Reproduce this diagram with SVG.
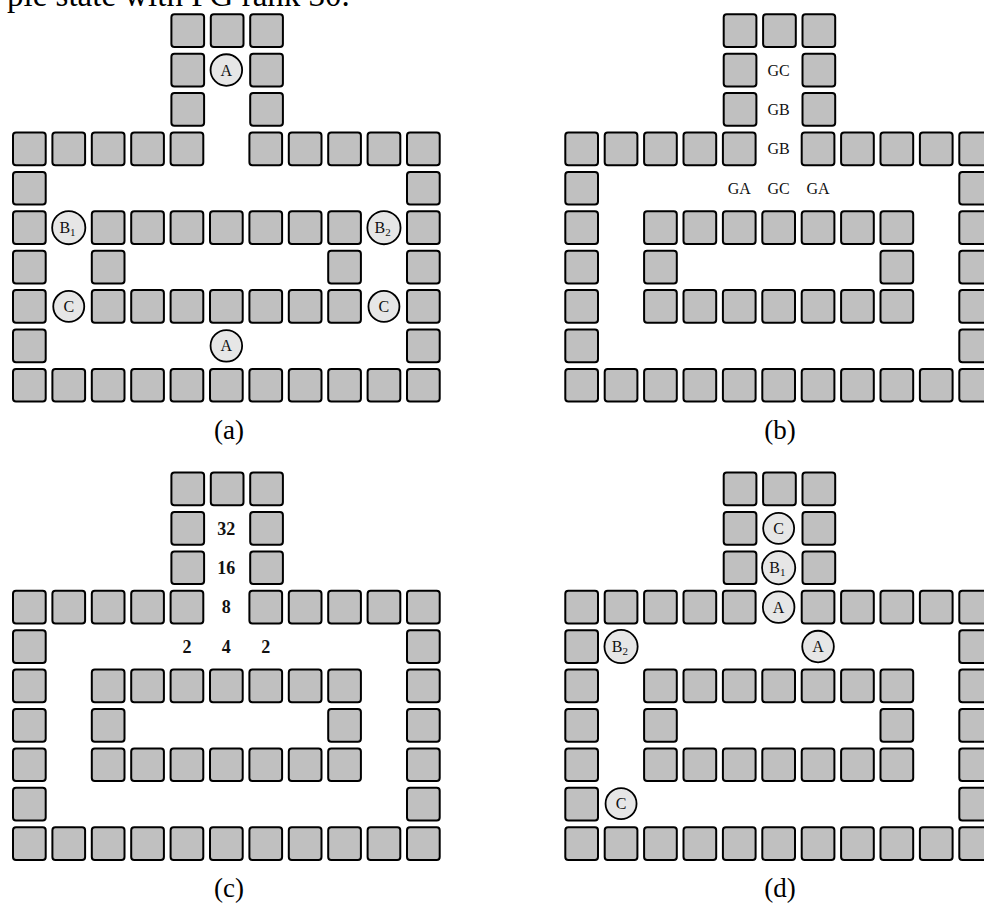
<svg xmlns="http://www.w3.org/2000/svg" xmlns:xlink="http://www.w3.org/1999/xlink" width="984" height="904" viewBox="0 0 984 904">
<style>
.sq{fill:#c0c0c0;stroke:#000;stroke-width:2}
.ag{fill:#e6e6e6;stroke:#000;stroke-width:1.8}
.al{font-family:"Liberation Serif",serif;font-size:16px;text-anchor:middle;fill:#111}
.gl{font-family:"Liberation Serif",serif;font-size:16px;text-anchor:middle;fill:#111}
.nl{font-family:"Liberation Serif",serif;font-size:18px;font-weight:bold;text-anchor:middle;fill:#111}
.cap{font-family:"Liberation Serif",serif;font-size:27px;text-anchor:middle;fill:#000}
.top{font-family:"Liberation Serif",serif;font-size:33px;fill:#000}
</style>
<defs>
<rect id="s" class="sq" x="1" y="1" width="32.7" height="32.7" rx="3"/>
<g id="maze">
<use href="#s" x="158.4" y="0"/><use href="#s" x="197.8" y="0"/><use href="#s" x="237.2" y="0"/>
<use href="#s" x="158.4" y="39.4"/><use href="#s" x="237.2" y="39.4"/>
<use href="#s" x="158.4" y="78.8"/><use href="#s" x="237.2" y="78.8"/>
<use href="#s" x="0" y="118.2"/><use href="#s" x="39.4" y="118.2"/><use href="#s" x="78.8" y="118.2"/><use href="#s" x="118.2" y="118.2"/><use href="#s" x="157.6" y="118.2"/>
<use href="#s" x="236.4" y="118.2"/><use href="#s" x="275.8" y="118.2"/><use href="#s" x="315.2" y="118.2"/><use href="#s" x="354.6" y="118.2"/><use href="#s" x="394" y="118.2"/>
<use href="#s" x="0" y="157.6"/><use href="#s" x="394" y="157.6"/>
<use href="#s" x="0" y="197"/><use href="#s" x="78.8" y="197"/><use href="#s" x="118.2" y="197"/><use href="#s" x="157.6" y="197"/><use href="#s" x="197" y="197"/><use href="#s" x="236.4" y="197"/><use href="#s" x="275.8" y="197"/><use href="#s" x="315.2" y="197"/><use href="#s" x="394" y="197"/>
<use href="#s" x="0" y="236.4"/><use href="#s" x="78.8" y="236.4"/><use href="#s" x="315.2" y="236.4"/><use href="#s" x="394" y="236.4"/>
<use href="#s" x="0" y="275.8"/><use href="#s" x="78.8" y="275.8"/><use href="#s" x="118.2" y="275.8"/><use href="#s" x="157.6" y="275.8"/><use href="#s" x="197" y="275.8"/><use href="#s" x="236.4" y="275.8"/><use href="#s" x="275.8" y="275.8"/><use href="#s" x="315.2" y="275.8"/><use href="#s" x="394" y="275.8"/>
<use href="#s" x="0" y="315.2"/><use href="#s" x="394" y="315.2"/>
<use href="#s" x="0" y="354.6"/><use href="#s" x="39.4" y="354.6"/><use href="#s" x="78.8" y="354.6"/><use href="#s" x="118.2" y="354.6"/><use href="#s" x="157.6" y="354.6"/><use href="#s" x="197" y="354.6"/><use href="#s" x="236.4" y="354.6"/><use href="#s" x="275.8" y="354.6"/><use href="#s" x="315.2" y="354.6"/><use href="#s" x="354.6" y="354.6"/><use href="#s" x="394" y="354.6"/>
</g>
</defs>
<rect width="984" height="904" fill="#fff"/>
<text class="top" x="7" y="6">ple state with PG rank 30.</text>

<g id="panel-a">
<use id="maze-a" href="#maze" x="12" y="13.3"/>
<g id="a-A1"><circle class="ag" cx="226.35" cy="70.05" r="15.8"/><text class="al" x="226.35" y="75.6">A</text></g>
<g id="a-B1"><circle class="ag" cx="68.75" cy="227.65" r="16.6"/><text class="al" x="67.5" y="233.2">B<tspan font-size="11" dy="3">1</tspan></text></g>
<g id="a-B2"><circle class="ag" cx="383.95" cy="227.65" r="16.6"/><text class="al" x="382.7" y="233.2">B<tspan font-size="11" dy="3">2</tspan></text></g>
<g id="a-C1"><circle class="ag" cx="68.75" cy="306.45" r="15.5"/><text class="al" x="68.75" y="312">C</text></g>
<g id="a-C2"><circle class="ag" cx="383.95" cy="306.45" r="15.5"/><text class="al" x="383.95" y="312">C</text></g>
<g id="a-A2"><circle class="ag" cx="226.35" cy="345.85" r="15.8"/><text class="al" x="226.35" y="351.4">A</text></g>
<text class="cap" x="229" y="439">(a)</text>
</g>

<g id="panel-b">
<use id="maze-b" href="#maze" x="564.3" y="13.3"/>
<g id="b-labels">
<text class="gl" x="778.65" y="75.6">GC</text>
<text class="gl" x="778.65" y="115">GB</text>
<text class="gl" x="778.65" y="154.4">GB</text>
<text class="gl" x="739.25" y="193.8">GA</text>
<text class="gl" x="778.65" y="193.8">GC</text>
<text class="gl" x="818.05" y="193.8">GA</text>
</g>
<text class="cap" x="780" y="439">(b)</text>
</g>

<g id="panel-c">
<use id="maze-c" href="#maze" x="12" y="471.6"/>
<g id="c-labels">
<text class="nl" x="226.35" y="534.6">32</text>
<text class="nl" x="226.35" y="574">16</text>
<text class="nl" x="226.35" y="613.4">8</text>
<text class="nl" x="186.95" y="652.8">2</text>
<text class="nl" x="226.35" y="652.8">4</text>
<text class="nl" x="265.75" y="652.8">2</text>
</g>
<text class="cap" x="229" y="897">(c)</text>
</g>

<g id="panel-d">
<use id="maze-d" href="#maze" x="564.3" y="471.6"/>
<g id="d-C1"><circle class="ag" cx="778.65" cy="528.35" r="15.5"/><text class="al" x="778.65" y="533.9">C</text></g>
<g id="d-B1"><circle class="ag" cx="778.65" cy="567.75" r="16.6"/><text class="al" x="777.4" y="573.3">B<tspan font-size="11" dy="3">1</tspan></text></g>
<g id="d-A1"><circle class="ag" cx="778.65" cy="607.15" r="15.8"/><text class="al" x="778.65" y="612.7">A</text></g>
<g id="d-B2"><circle class="ag" cx="621.05" cy="646.55" r="16.6"/><text class="al" x="619.8" y="652.1">B<tspan font-size="11" dy="3">2</tspan></text></g>
<g id="d-A2"><circle class="ag" cx="818.05" cy="646.55" r="15.8"/><text class="al" x="818.05" y="652.1">A</text></g>
<g id="d-C2"><circle class="ag" cx="621.05" cy="803.65" r="15.5"/><text class="al" x="621.05" y="809.2">C</text></g>
<text class="cap" x="780" y="897">(d)</text>
</g>
</svg>
